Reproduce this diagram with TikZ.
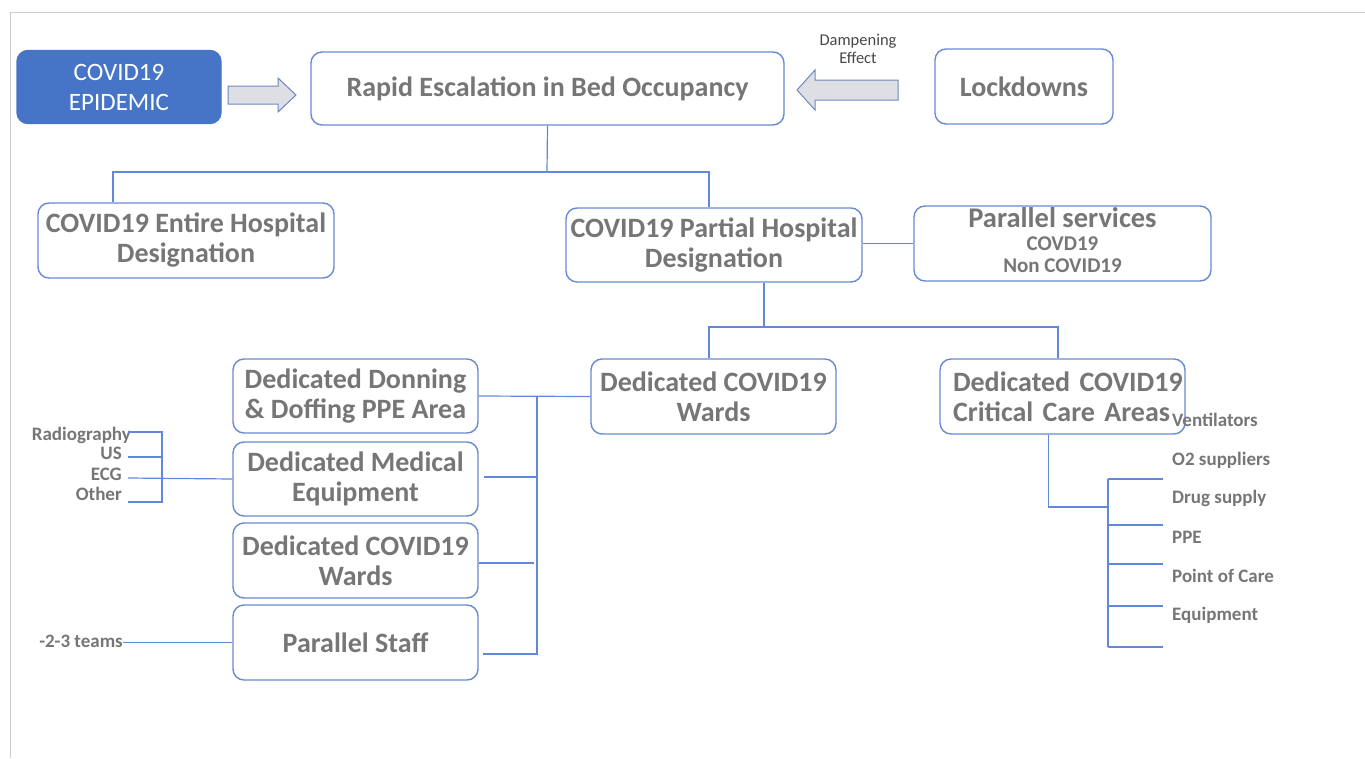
\documentclass[tikz,border=0pt]{standalone}
\usepackage{fontspec}
\setmainfont{Carlito}
\usetikzlibrary{positioning}
\definecolor{boxblue}{RGB}{104,138,210}
\definecolor{epiblue}{RGB}{70,116,198}
\definecolor{txtgray}{RGB}{118,118,118}
\definecolor{linkblue}{RGB}{98,136,218}
\definecolor{arrfill}{RGB}{222,223,228}
\definecolor{framegray}{RGB}{205,205,205}

\begin{document}
\begin{tikzpicture}[x=1pt, y=-1pt,
  every node/.style={inner sep=0pt},
  box/.style={draw=boxblue, line width=1.4pt, rounded corners=11pt,
              fill=white, text=txtgray, align=center,
              font=\bfseries\fontsize{28}{30}\selectfont},
  small/.style={text=txtgray, font=\bfseries\fontsize{19}{20}\selectfont},
  link/.style={linkblue, line width=1.2pt},
  blockarrow/.style={draw=boxblue!80!gray, fill=arrfill, line width=1pt, line join=miter}]
\useasboundingbox (0,0) rectangle (1365,758);
\draw[framegray, line width=0.8pt] (10,758) -- (10,12) -- (1365,12);

% top row
\node[box, fill=epiblue, draw=epiblue, text=white,
      font=\fontsize{25}{30}\selectfont,
      minimum width=204pt, minimum height=73pt] (epi) at (119,87)
  {COVID19\\EPIDEMIC};
\node[box, minimum width=473pt, minimum height=73pt] (rapid) at (547.5,88.5)
  {Rapid Escalation in Bed Occupancy};
\node[box, minimum width=178pt, minimum height=75pt] (lock) at (1024,86.5)
  {Lockdowns};
\node[text=black!72, font=\fontsize{16.5}{18}\selectfont, align=center] (damp)
  at (858,49) {Dampening\\Effect};

\draw[blockarrow] (228,86) -- (278,86) -- (278,78) -- (296,95)
  -- (278,112) -- (278,104) -- (228,104) -- cycle;
\draw[blockarrow] (898,80) -- (815,80) -- (815,70) -- (797,90)
  -- (815,110) -- (815,100) -- (898,100) -- cycle;

% second row
\node[box, minimum width=296pt, minimum height=75pt] (entire) at (186,240.5)
  {COVID19 Entire Hospital\\Designation};
\node[box, minimum width=296pt, minimum height=74pt] (partial) at (714,245)
  {COVID19 Partial Hospital\\Designation};
\node[box, minimum width=297pt, minimum height=75pt] (parsvc) at (1062.5,243.5)
  {\fontsize{28.5}{25}\selectfont Parallel services\\[-7pt]
   \fontsize{21}{22}\selectfont COVD19\\[-8pt]
   \fontsize{21}{22}\selectfont Non COVID19\rule[-7pt]{0pt}{0pt}};

\coordinate (tj) at (547,172);
\draw[link] (rapid.south) -- (tj);
\draw[link] (tj) -| ([xshift=-73pt]entire.north);
\draw[link] (tj) -| ([xshift=-5pt]partial.north);
\draw[link] (parsvc.west -| partial.east) -- (parsvc.west);

% third row
\node[box, minimum width=245pt, minimum height=75pt] (wardsR) at (713.5,396.5)
  {Dedicated COVID19\\Wards};
\node[box, minimum width=245pt, minimum height=75pt, align=left,
      text width=219pt] (crit) at (1062.5,396.5)
  {\mbox{Dedicated\ COVID19}\\\mbox{Critical Care Areas}};

\coordinate (mj) at (764,327);
\draw[link] ([xshift=50pt]partial.south) -- (mj);
\draw[link] (mj) -| ([xshift=-4.5pt]wardsR.north);
\draw[link] (mj) -| ([xshift=-4.5pt]crit.north);

% left column
\node[box, minimum width=245pt, minimum height=74pt] (donning) at (355.5,396)
  {Dedicated Donning\\\& Doffing PPE Area};
\node[box, minimum width=245pt, minimum height=74pt] (medeq) at (355.5,479)
  {Dedicated Medical\\Equipment};
\node[box, minimum width=245pt, minimum height=75pt] (wardsL) at (355.5,560.5)
  {Dedicated COVID19\\Wards};
\node[box, minimum width=245pt, minimum height=75pt] (staff) at (355.5,642.5)
  {Parallel Staff};

\coordinate (bus) at (537,397);
\draw[link] (donning.east) -- (wardsR.west);
\draw[link] (bus) |- ([xshift=4pt,yshift=-11.5pt]staff.east);
\draw[link] ([xshift=5pt,yshift=2pt]medeq.east) -- ++(54,0);
\draw[link] ([yshift=-2.5pt]wardsL.east) -- ++(55,0);

% equipment list
\node[small, anchor=east] (radio) at (131,435) {Radiography};
\node[small, anchor=east] (us) at (122,453) {US};
\node[small, anchor=east] (ecg) at (122,474) {ECG};
\node[small, anchor=east] (other) at (122,494) {Other};
\coordinate (kRad) at (128,432);
\coordinate (kUS) at (128,457);
\coordinate (kECG) at (128,478);
\coordinate (kOth) at (128,502);
\coordinate (kBar) at (162,0);
\draw[link] (medeq.west) -- (kECG);
\draw[link] (kRad) -- (kRad-|kBar) -- (kOth-|kBar) -- (kOth);
\draw[link] (kUS) -- (kUS-|kBar);

% staff teams
\node[small, anchor=east] (teams) at (123,641) {-2-3 teams};
\draw[link] (staff.west) -- (staff.west -| teams.east);

% critical care supplies
\coordinate (rBar) at (1108,507);
\draw[link] ([xshift=-14pt]crit.south) |- (rBar);
\draw[link] (1108,479) -- (1108,647);
\foreach \ty in {479,525,564,606,647}
  \draw[link] (1108,\ty) -- (1163,\ty);
\foreach \lbl/\ty/\nm in {Ventilators/420/vent, O2 suppliers/460/otwo,
    Drug supply/498/drug, PPE/537/ppe, Point of Care/576/poc,
    Equipment/615/equip}
  \node[small, anchor=west] (\nm) at (1172,\ty) {\lbl};
\end{tikzpicture}
\end{document}
